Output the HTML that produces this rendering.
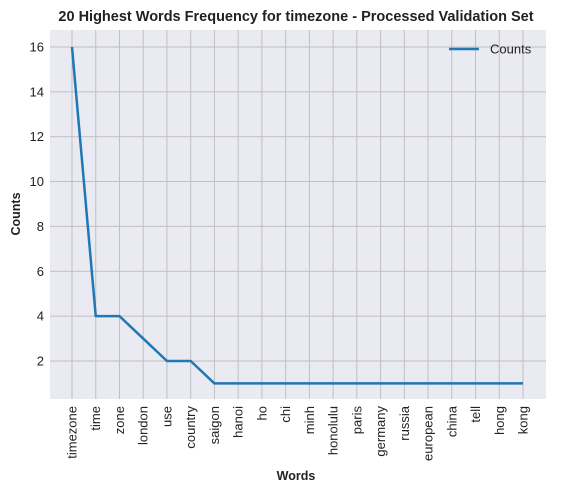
<!DOCTYPE html>
<html><head><meta charset="utf-8"><style>
body{margin:0;background:#fff;font-family:"Liberation Sans",sans-serif;}
</style></head><body>
<svg id="chart" width="580" height="493" xmlns="http://www.w3.org/2000/svg" font-family="Liberation Sans, sans-serif">
<text x="296" y="21" text-anchor="middle" font-size="14.5" font-weight="bold" fill="#222">20 Highest Words Frequency for timezone - Processed Validation Set</text>
<rect x="50" y="30" width="496" height="369" fill="#eaeaf2"/>
<g id="grid"></g>
<g id="yticks"></g>
<g id="xticks"></g>
<path id="line" fill="none" stroke="#1f77b4" stroke-width="2.5" stroke-linejoin="round"/>
<g>
<line x1="449" y1="49" x2="479" y2="49" stroke="#1f77b4" stroke-width="2.5"/>
<text x="490" y="53.5" font-size="13" fill="#222">Counts</text>
</g>
<text x="296" y="480" text-anchor="middle" font-size="12.5" font-weight="bold" fill="#222">Words</text>
<text transform="translate(20,214) rotate(-90)" text-anchor="middle" font-size="12.5" font-weight="bold" fill="#222">Counts</text>
</svg>
<script>
const words = ["timezone","time","zone","london","use","country","saigon","hanoi","ho","chi","minh","honolulu","paris","germany","russia","european","china","tell","hong","kong"];
const counts = [16,4,4,3,2,2,1,1,1,1,1,1,1,1,1,1,1,1,1,1];
const yTicks = [2,4,6,8,10,12,14,16];
const NS="http://www.w3.org/2000/svg";
const xs=i=>72+i*(451/19);
const ys=v=>361-(v-2)*22.43;
const grid=document.getElementById('grid'),yt=document.getElementById('yticks'),xt=document.getElementById('xticks');
function mk(t,a){const e=document.createElementNS(NS,t);for(const k in a)e.setAttribute(k,a[k]);return e;}
yTicks.forEach(v=>{
  const l=mk('line',{x1:50,x2:546,y1:ys(v),y2:ys(v),stroke:'#c0c0c0','stroke-width':1});
  
  
  grid.appendChild(l);
  const t=mk('text',{x:44,y:ys(v)+4.5,'text-anchor':'end','font-size':13,fill:'#222'});
  t.textContent=v;
  
  
  yt.appendChild(t);
});
words.forEach((w,i)=>{
  const l=mk('line',{x1:xs(i),x2:xs(i),y1:30,y2:399,stroke:'#c0c0c0','stroke-width':1});
  
  
  grid.appendChild(l);
  const t=mk('text',{transform:`translate(${xs(i)+4.5},406) rotate(-90)`,'text-anchor':'end','font-size':13,fill:'#222'});
  t.textContent=w;
  
  
  xt.appendChild(t);
});
document.getElementById('line').setAttribute('d',counts.map((c,i)=>(i?'L':'M')+xs(i)+','+ys(c)).join(' '));
</script>
</body></html>
